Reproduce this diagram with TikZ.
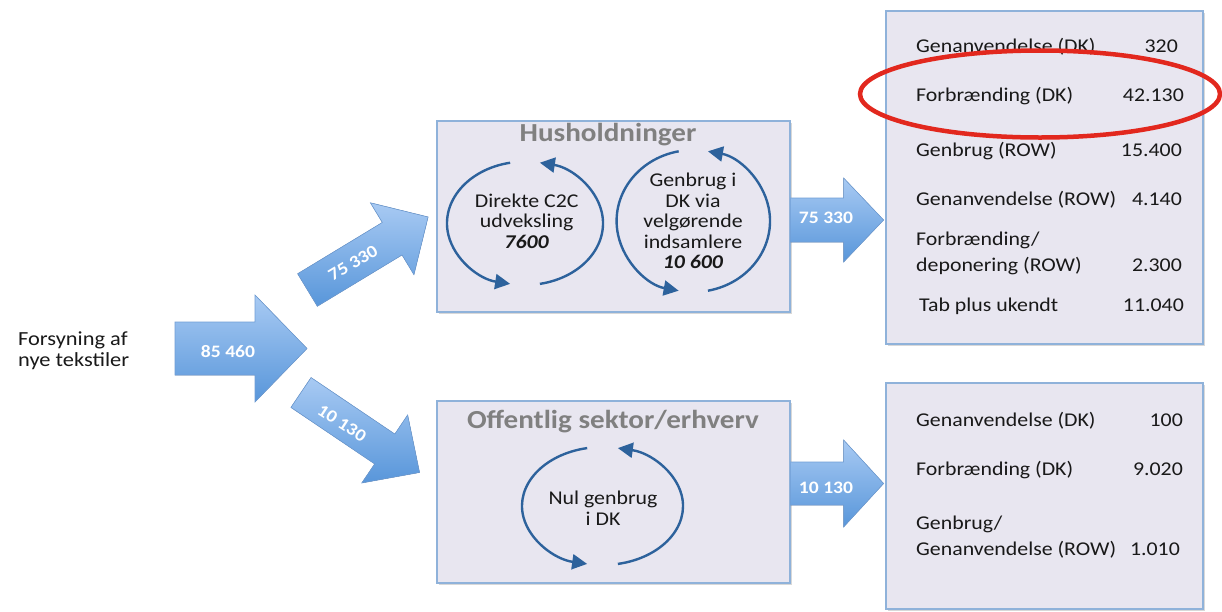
\documentclass[tikz,border=0pt]{standalone}
\usepackage{fontspec}
\setmainfont{Carlito}[FakeStretch=1.12]
\usetikzlibrary{arrows.meta,shadows}

\definecolor{boxfill}{RGB}{232,230,240}
\definecolor{boxline}{RGB}{143,178,218}
\definecolor{flowtop}{RGB}{168,202,243}
\definecolor{flowbot}{RGB}{88,150,218}
\definecolor{flowline}{RGB}{112,158,214}
\definecolor{loopblue}{RGB}{45,98,156}
\definecolor{ringred}{RGB}{226,40,30}
\definecolor{titlegray}{RGB}{128,128,128}
\definecolor{ink}{RGB}{25,25,25}

% block arrow: tail point, angle, length, shaft half width, head half width, head length
\newcommand\blockarrow[6]{%
  \begin{scope}[shift={(#1)}, rotate=#2]
    \filldraw[flow] (0,-#4) -- ({#3-#6},-#4) -- ({#3-#6},-#5) -- (#3,0)
      -- ({#3-#6},#5) -- ({#3-#6},#4) -- (0,#4) -- cycle;
  \end{scope}}

% circular exchange loop: centre, x radius, y radius
\newcommand\exchangeloop[3]{%
  \draw[loopline] ([shift={(259:#2 and #3)}]#1)
    arc[start angle=259, end angle=101, x radius=#2, y radius=#3];
  \draw[loopline] ([shift={(79:#2 and #3)}]#1)
    arc[start angle=79, end angle=-79, x radius=#2, y radius=#3];}

\begin{document}
\begin{tikzpicture}[x=1pt, y=-1pt,
  panel/.style={draw=boxline, line width=1.2pt, fill=boxfill, inner sep=0pt,
    drop shadow={shadow xshift=1.5pt, shadow yshift=-1.5pt, opacity=.3}},
  flow/.style={draw=flowline, line width=.6pt, top color=flowtop, bottom color=flowbot},
  flowlabel/.style={text=white, font=\bfseries\fontsize{17.5}{20}\selectfont, inner sep=0pt},
  loopline/.style={draw=loopblue, line width=2.4pt, -{Triangle[length=15pt,width=15pt]}},
  paneltitle/.style={text=titlegray, font=\bfseries\fontsize{26}{30}\selectfont, anchor=base, inner sep=0pt},
  looptext/.style={text=ink, font=\fontsize{19.5}{20.5}\selectfont, align=center, inner sep=0pt},
  listitem/.style={text=ink, font=\fontsize{19.5}{24}\selectfont, anchor=base west, inner sep=0pt},
  qty/.style={text=ink, font=\fontsize{19.5}{24}\selectfont, anchor=base east, inner sep=0pt},
  sourcetext/.style={text=ink, font=\fontsize{20}{24}\selectfont, anchor=base west, inner sep=0pt},
]
\path[use as bounding box, fill=white] (0,0) rectangle (1222,611);

% source of new textiles
\node[sourcetext] (src1) at (18,345) {Forsyning af};
\node[sourcetext] (src2) at (18,366.7) {nye tekstiler};

% panels
\node[panel, minimum width=353pt, minimum height=191pt] (house) at (613.5,216.5) {};
\node[panel, minimum width=353pt, minimum height=182pt] (public) at (613.5,492) {};
\node[panel, minimum width=317pt, minimum height=333pt] (fateA) at (1044.5,177.5) {};
\node[panel, minimum width=317pt, minimum height=226pt] (fateB) at (1044.5,496) {};

% flows
\coordinate (supplytail) at (175,348.5);
\coordinate (housetail) at (307.5,290);
\coordinate (publictail) at (301,392.5);
\coordinate (houseout) at (house.east |- 0,220);
\coordinate (publicout) at (public.east |- 0,483.5);
\blockarrow{supplytail}{0}{132}{26.5}{53.5}{52}
\blockarrow{housetail}{31.2}{141}{19}{42}{42}
\blockarrow{publictail}{-34}{143}{18}{41}{42}
\blockarrow{houseout}{0}{93}{22}{42}{40}
\blockarrow{publicout}{0}{93}{21.5}{43.5}{40}

\node[flowlabel] (f0) at (228,351.5) {85 460};
\node[flowlabel, rotate=31] (f1) at (353,263) {75 330};
\node[flowlabel, rotate=-33] (f2) at (342,423) {10 130};
\node[flowlabel] (f3) at (826,218) {75 330};
\node[flowlabel] (f4) at (826,488) {10 130};

% households
\node[paneltitle] (houseT) at (608,141.7) {Husholdninger};
\coordinate (loopA) at (525,223.3);
\coordinate (loopB) at (693.3,221);
\exchangeloop{loopA}{78}{61.7}
\exchangeloop{loopB}{76.7}{71}
\node[looptext] (loopAtext) at (526.7,221) {Direkte C2C\\udveksling\\\textbf{\textit{7600}}};
\node[looptext] (loopBtext) at (693,221) {Genbrug i\\DK via\\velgørende\\indsamlere\\\textbf{\textit{10 600}}};

% public sector / business
\node[paneltitle] (publicT) at (613,428.3) {Offentlig sektor/erhverv};
\coordinate (loopC) at (602.5,506);
\exchangeloop{loopC}{80.5}{59}
\node[looptext] (loopCtext) at (603,508) {Nul genbrug\\i DK};

% fate of household textiles
\node[listitem] (a1) at (916,52.7) {Genanvendelse (DK)};
\node[qty] (a1n) at (1178,52.7) {320};
\node[listitem] (a2) at (916,101.7) {Forbrænding (DK)};
\node[qty] (a2n) at (1184,101.7) {42.130};
\node[listitem] (a3) at (916,156.7) {Genbrug (ROW)};
\node[qty] (a3n) at (1182,156.7) {15.400};
\node[listitem] (a4) at (916,205) {Genanvendelse (ROW)};
\node[qty] (a4n) at (1182,205) {4.140};
\node[listitem] (a5) at (916,245) {Forbrænding/};
\node[listitem] (a5b) at (916,271.7) {deponering (ROW)};
\node[qty] (a5n) at (1182,271.7) {2.300};
\node[listitem] (a6) at (919,311.7) {Tab plus ukendt};
\node[qty] (a6n) at (1184,311.7) {11.040};

% fate of public/business textiles
\node[listitem] (b1) at (916,426.7) {Genanvendelse (DK)};
\node[qty] (b1n) at (1183,426.7) {100};
\node[listitem] (b2) at (916,475) {Forbrænding (DK)};
\node[qty] (b2n) at (1183,475) {9.020};
\node[listitem] (b3) at (916,529.3) {Genbrug/};
\node[listitem] (b3b) at (916,555) {Genanvendelse (ROW)};
\node[qty] (b3n) at (1180,555) {1.010};

% highlight ring
\draw[ringred, line width=4.5pt] (1040,94) ellipse [x radius=180, y radius=43.5];
\end{tikzpicture}
\end{document}
